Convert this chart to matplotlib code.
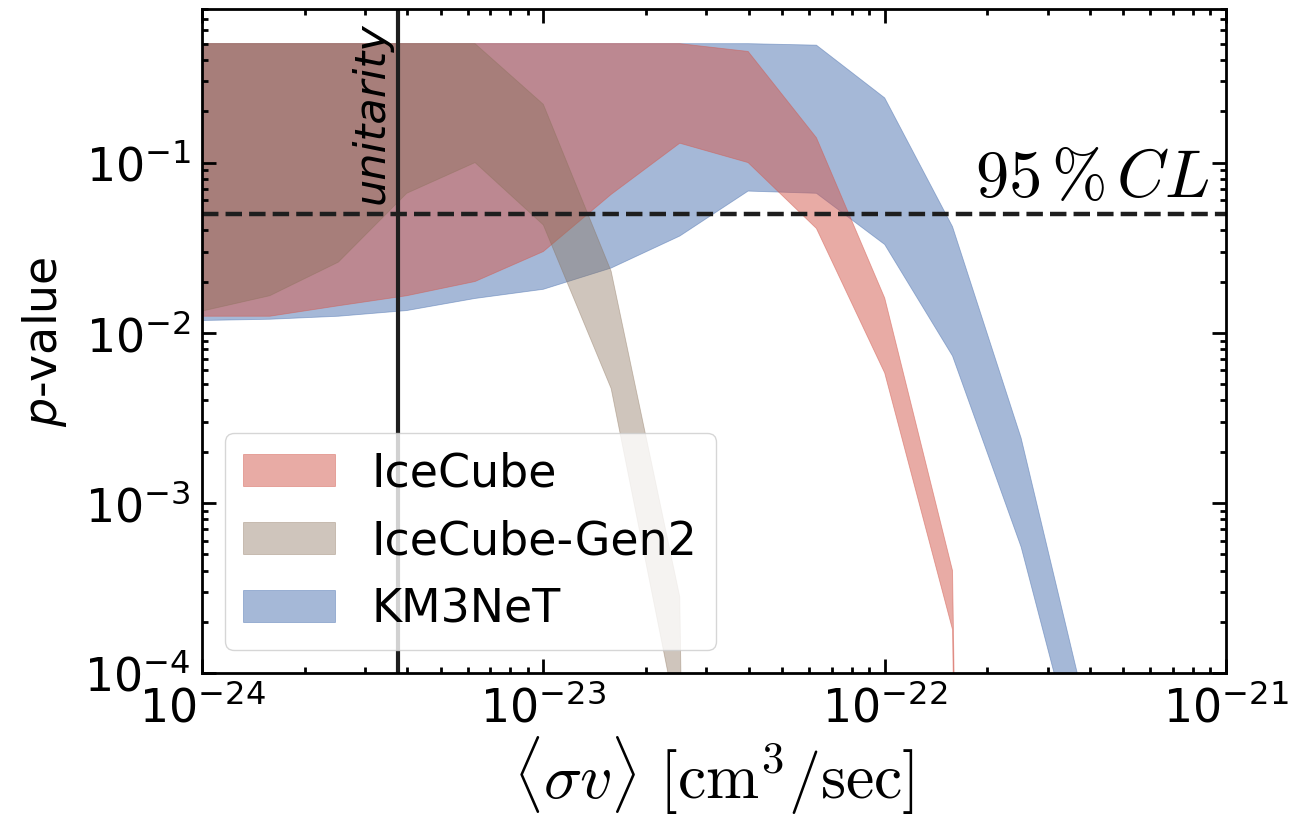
import matplotlib
matplotlib.use("Agg")
import matplotlib.pyplot as plt
import numpy as np

# x grid (<sigma v> in cm^3/sec)
sigv = [1e-24, 1.58e-24, 2.51e-24, 3.98e-24, 6.31e-24,
        1e-23, 1.58e-23, 2.51e-23, 3.98e-23, 6.31e-23,
        1e-22, 1.58e-22, 2.51e-22, 3.98e-22, 6.31e-22, 1e-21]

icecube_hi = [0.5, 0.5, 0.5, 0.5, 0.5, 0.5, 0.5, 0.5, 0.45, 0.14,
              0.016, 4.0e-4, 1e-30, 1e-30, 1e-30, 1e-30]
icecube_lo = [0.0125, 0.0125, 0.0144, 0.0165, 0.020, 0.030, 0.065, 0.13, 0.10, 0.041,
              0.0058, 1.8e-4, 1e-30, 1e-30, 1e-30, 1e-30]

gen2_hi = [0.5, 0.5, 0.5, 0.5, 0.5, 0.22, 0.023, 2.8e-4, 1e-30, 1e-30,
           1e-30, 1e-30, 1e-30, 1e-30, 1e-30, 1e-30]
gen2_lo = [0.0134, 0.0165, 0.026, 0.066, 0.10, 0.043, 0.0047, 4.5e-5, 1e-30, 1e-30,
           1e-30, 1e-30, 1e-30, 1e-30, 1e-30, 1e-30]

km3_hi = [0.5, 0.5, 0.5, 0.5, 0.5, 0.5, 0.5, 0.5, 0.5, 0.49,
          0.24, 0.042, 0.0024, 5e-5, 1e-30, 1e-30]
km3_lo = [0.0118, 0.012, 0.0125, 0.0135, 0.0159, 0.018, 0.024, 0.037, 0.068, 0.066,
          0.033, 0.0073, 5.5e-4, 1.6e-5, 1e-30, 1e-30]

labels = ["IceCube", "IceCube-Gen2", "KM3NeT"]
unitarity = 3.76e-24
cl95 = 0.05

fig = plt.figure(figsize=(13.13, 8.28), dpi=100)
ax = fig.add_axes([0.1538, 0.186, 0.78, 0.802])

c_ic = "#D3594D"
c_g2 = "#897058"
c_km = "#4C72B0"

h_km = ax.fill_between(sigv, km3_lo, km3_hi, color=c_km, alpha=0.5, lw=0.6, label=labels[2])
h_ic = ax.fill_between(sigv, icecube_lo, icecube_hi, color=c_ic, alpha=0.5, lw=0.6, label=labels[0])
h_g2 = ax.fill_between(sigv, gen2_lo, gen2_hi, color=c_g2, alpha=0.4, lw=0.6, label=labels[1])

ax.axhline(cl95, color="#1e1e1e", ls="--", lw=3.2)
ax.axvline(unitarity, color="#1e1e1e", lw=3)

ax.set_xscale("log")
ax.set_yscale("log")
ax.set_xlim(1e-24, 1e-21)
ax.set_ylim(1e-4, 0.8)

ax.text(3.62e-24, 0.058, "unitarity", rotation=90, ha="right", va="bottom",
        fontsize=31, style="italic")
ax.text(8.9e-22, 0.064, r"$95\,\%\,CL$", ha="right", va="baseline",
        fontsize=48, math_fontfamily="cm")

ax.set_xlabel(r"$\langle\sigma v\rangle\ [\mathrm{cm^3/sec}]$", fontsize=46,
              math_fontfamily="cm", labelpad=2)
ax.set_ylabel(r"$p$-value", fontsize=33, labelpad=11)

ax.tick_params(which="both", direction="in", top=True, right=True, width=2)
ax.tick_params(which="major", length=10, labelsize=33, pad=8)
ax.tick_params(which="minor", length=4)
for s in ax.spines.values():
    s.set_linewidth(2)

ax.legend(handles=[h_ic, h_g2, h_km], loc="lower left", fontsize=33)

fig.savefig("out.png", dpi=100)
